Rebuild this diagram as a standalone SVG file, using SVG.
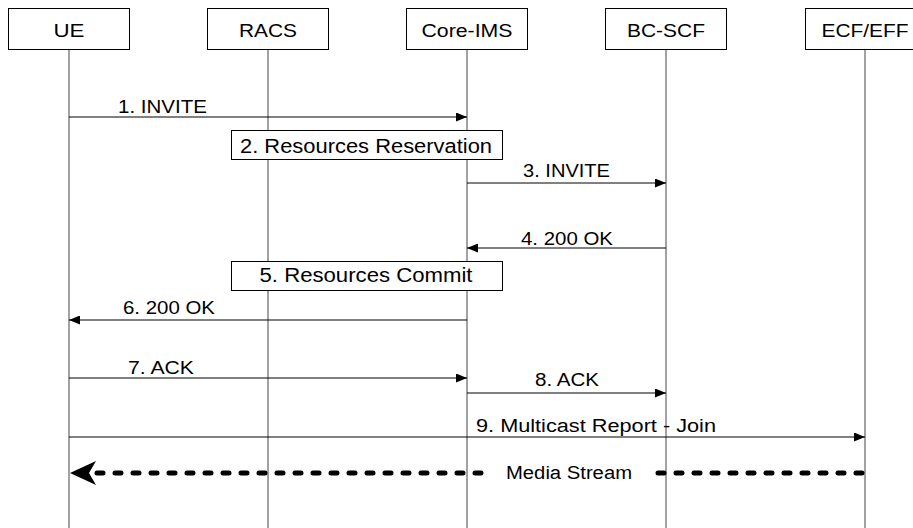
<svg xmlns="http://www.w3.org/2000/svg" width="913" height="528" viewBox="0 0 913 528">
<style>
text{font-family:"Liberation Sans",Arial,sans-serif;fill:#000}
.lbl{font-size:18px}
.box{fill:#fff;stroke:#000;stroke-width:1}
.life{stroke:#444;stroke-width:1}
.msg{stroke:#000;stroke-width:1;fill:none;marker-end:url(#ah)}
.media{stroke:#000;stroke-width:5;stroke-linecap:round;stroke-dasharray:6 12;fill:none}
</style>
<defs>
<marker id="ah" markerUnits="userSpaceOnUse" markerWidth="11" markerHeight="9" refX="11" refY="4.5" orient="auto">
<path d="M0,0 L11,4.5 L0,9 Z" fill="#000"/>
</marker>
</defs>
<rect width="913" height="528" fill="#fff"/>
<g id="lifelines">
<line class="life" x1="69" y1="50" x2="69" y2="528"/>
<line class="life" x1="268" y1="50" x2="268" y2="528"/>
<line class="life" x1="467" y1="50" x2="467" y2="528"/>
<line class="life" x1="666" y1="50" x2="666" y2="528"/>
<line class="life" x1="865" y1="50" x2="865" y2="528"/>
</g>
<g id="UE"><rect class="box" x="8.5" y="8.5" width="121" height="41"/><text class="lbl" x="69" y="37" text-anchor="middle" textLength="31" lengthAdjust="spacingAndGlyphs">UE</text></g>
<g id="RACS"><rect class="box" x="207.5" y="8.5" width="121" height="41"/><text class="lbl" x="268" y="37" text-anchor="middle" textLength="58" lengthAdjust="spacingAndGlyphs">RACS</text></g>
<g id="Core-IMS"><rect class="box" x="406.5" y="8.5" width="121" height="41"/><text class="lbl" x="467" y="37" text-anchor="middle" textLength="91" lengthAdjust="spacingAndGlyphs">Core-IMS</text></g>
<g id="BC-SCF"><rect class="box" x="605.5" y="8.5" width="121" height="41"/><text class="lbl" x="666" y="37" text-anchor="middle" textLength="78" lengthAdjust="spacingAndGlyphs">BC-SCF</text></g>
<g id="ECF-EFF"><rect class="box" x="805.5" y="8.5" width="121" height="41"/><text class="lbl" x="865" y="37" text-anchor="middle" textLength="87" lengthAdjust="spacingAndGlyphs">ECF/EFF</text></g>
<g id="step2"><rect class="box" x="231.5" y="130.5" width="271" height="29"/><text x="366" y="153" font-size="20" text-anchor="middle" textLength="252" lengthAdjust="spacingAndGlyphs">2. Resources Reservation</text></g>
<g id="step5"><rect class="box" x="231.5" y="261.5" width="271" height="29"/><text x="366" y="282" font-size="20" text-anchor="middle" textLength="213" lengthAdjust="spacingAndGlyphs">5. Resources Commit</text></g>
<g id="connectors">
<line class="msg" x1="69" y1="117" x2="467" y2="117"/>
<line class="msg" x1="467" y1="183" x2="666" y2="183"/>
<line class="msg" x1="666" y1="248" x2="467" y2="248"/>
<line class="msg" x1="467" y1="320" x2="69" y2="320"/>
<line class="msg" x1="69" y1="378" x2="467" y2="378"/>
<line class="msg" x1="467" y1="393" x2="666" y2="393"/>
<line class="msg" x1="69" y1="437" x2="865" y2="437"/>
<line class="media" x1="862" y1="473" x2="652" y2="473"/>
<line class="media" x1="481" y1="473" x2="95" y2="473"/>
<path d="M70,473 L96,461 L89,473 L96,485 Z" fill="#000"/>
</g>
<g id="labels">
<text class="lbl" x="118" y="113" textLength="89" lengthAdjust="spacingAndGlyphs">1. INVITE</text>
<text class="lbl" x="523" y="177" textLength="87" lengthAdjust="spacingAndGlyphs">3. INVITE</text>
<text class="lbl" x="521" y="245" textLength="92" lengthAdjust="spacingAndGlyphs">4. 200 OK</text>
<text class="lbl" x="123" y="314" textLength="92" lengthAdjust="spacingAndGlyphs">6. 200 OK</text>
<text class="lbl" x="128" y="374" textLength="66" lengthAdjust="spacingAndGlyphs">7. ACK</text>
<text class="lbl" x="535" y="386" textLength="64" lengthAdjust="spacingAndGlyphs">8. ACK</text>
<text class="lbl" x="476" y="432" textLength="240" lengthAdjust="spacingAndGlyphs">9. Multicast Report - Join</text>
<text class="lbl" x="506" y="479" textLength="126" lengthAdjust="spacingAndGlyphs">Media Stream</text>
</g>
</svg>
